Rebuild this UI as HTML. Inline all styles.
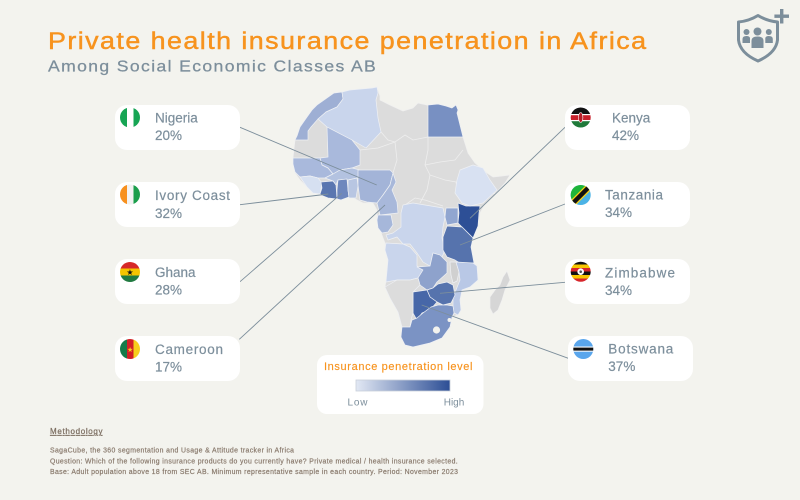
<!DOCTYPE html>
<html>
<head>
<meta charset="utf-8">
<style>
html,body{margin:0;padding:0;background:#f3f3ee;}
svg{display:block;}
text{font-family:"Liberation Sans",sans-serif;}
</style>
</head>
<body>
<svg width="800" height="500" viewBox="0 0 800 500" xmlns="http://www.w3.org/2000/svg">
<defs>
  <linearGradient id="lg" x1="0" x2="1" y1="0" y2="0">
    <stop offset="0" stop-color="#e2e8f4"/>
    <stop offset="1" stop-color="#2c4e95"/>
  </linearGradient>
  <clipPath id="c1"><circle cx="130" cy="117.5" r="10"/></clipPath>
  <clipPath id="c2"><circle cx="130" cy="194.5" r="10"/></clipPath>
  <clipPath id="c3"><circle cx="130" cy="272" r="10"/></clipPath>
  <clipPath id="c4"><circle cx="130" cy="349" r="10"/></clipPath>
  <clipPath id="c5"><circle cx="580.7" cy="117.5" r="10"/></clipPath>
  <clipPath id="c6"><circle cx="580.7" cy="195" r="10"/></clipPath>
  <clipPath id="c7"><circle cx="580.7" cy="271.7" r="10"/></clipPath>
  <clipPath id="c8"><circle cx="583.3" cy="349" r="10"/></clipPath>
</defs>

<rect width="800" height="500" fill="#f3f3ee"/>

<!-- Title -->
<g transform="scale(1.12,1)">
<text x="42.86" y="49" font-size="24" fill="#f7931e" stroke="#f7931e" stroke-width="0.45" textLength="534" lengthAdjust="spacing">Private health insurance penetration in Africa</text>
</g>
<g transform="scale(1.1,1)">
<text x="43.64" y="71.5" font-size="16" fill="#7c8e9b" stroke="#7c8e9b" stroke-width="0.25" textLength="298" lengthAdjust="spacing">Among Social Economic Classes AB</text>
</g>

<!-- Shield icon -->
<g fill="none" stroke="#7c8e9b" stroke-width="3" stroke-linejoin="round">
  <path d="M738.5 22 Q749 21 758 15.5 Q767 21 777.5 22 L777.5 40 Q776 53 758 61 Q740 53 738.5 40 Z"/>
</g>
<g fill="#7c8e9b">
  <circle cx="757.5" cy="31.5" r="4"/>
  <path d="M751.5 48 L751.5 41 Q751.5 36.5 757.5 36.5 Q763.5 36.5 763.5 41 L763.5 48 Z"/>
  <circle cx="746.5" cy="32" r="3"/>
  <path d="M742.5 43 L742.5 39 Q742.5 36 746.5 36 Q749.5 36 750 38 L750 43 Z"/>
  <circle cx="768.8" cy="32" r="3"/>
  <path d="M765.3 43 L765.3 38 Q765.8 36 768.8 36 Q772.8 36 772.8 39 L772.8 43 Z"/>
  <rect x="780" y="9" width="3.4" height="14.5"/>
  <rect x="774.4" y="14.5" width="14.6" height="3.4"/>
</g>

<!-- Map base -->
<g stroke="#f0f0f0" stroke-width="0.7" stroke-linejoin="round">
<polygon fill="#dcdcdc" points="317,105 334,93 342,92 350,90 372,88 377,87 380,96 380,100 390,105 403,111 413,108 418,103 427,105 438,104 446,106 452,108 456,105 458,110 457,113 463,137 468,153 475,163 487,173 493,177 502,176 510,175 505,183 496,193 485,204 480,213 478,226 473,238 470,247 473,262 477,266 478,280 470,287 462,290 460,300 461,310 458,315 452,317 450,327 442,338 430,343 413,347 405,345 401,337 402,327 398,312 390,298 385,287 386,281 388,260 385,250 385,243 380,230 377,220 377,210 373,203 363,203 353,198 347,197 337,199 323,195 313,193 307,187 300,180 295,173 293,164 293,158 295,140 297,136 300,127 307,117 312,110"/>
<!-- Madagascar -->
<polygon fill="#d6d6d6" points="507,271 510,280 505,290 502,300 498,310 493,314 490,308 490,297 495,290 500,285 503,277"/>
</g>
<!-- internal gray borders -->
<g fill="none" stroke="#eeeeee" stroke-width="0.8">
  <polyline points="381,132 388,140 395,142 405,135 413,140 428,137"/>
  <polyline points="395,142 397,160 393,173"/>
  <polyline points="428,137 428,150 425,165 430,175 427,190 420,203"/>
  <polyline points="425,165 440,162 455,160 463,150"/>
  <polyline points="430,175 445,180 456,182 458,195"/>
  <polyline points="405,205 415,198 425,200 443,206"/>
  <polyline points="360,150 378,148 395,142"/>
  <polyline points="496,193 488,195 483,203"/>
</g>

<!-- Colored countries -->
<g stroke="#eef0f4" stroke-width="0.7" stroke-linejoin="round">
  <polygon fill="#9eafd4" points="317,105 334,93 342,92 343,99 337,107 326,112 318,119 311,127 308,131 308,140 295,140 297,136 300,127 307,117 312,110"/>
  <polygon fill="#c9d5ec" points="342,92 350,90 372,88 377,87 378,93 376,100 378,118 381,132 366,148 352,140 327,127 318,119 326,112 337,107 343,99"/>
  <polygon fill="#7890c2" points="428,105 438,104 446,106 452,108 456,105 458,110 457,113 463,137 428,137"/>
  <polygon fill="#a9b9dc" points="327,127 352,140 360,150 360,165 352,168 340,170 333,174 328,168 322,165 320,158 328,157"/>
  <polygon fill="#a9b9dc" points="293,158 320,158 322,165 328,168 333,174 325,178 318,178 310,176 300,177 295,172 293,164"/>
  <polygon fill="#d6e0f1" points="300,177 310,176 318,178 322,183 320,194 313,193 307,187"/>
  <polygon fill="#b3c2e0" points="333,174 340,170 352,168 360,170 358,178 348,180 338,180 336,185 333,181 325,178"/>
  <polygon fill="#5a76b0" points="321,182 333,181 336,185 337,199 328,198 323,196 320,194 322,188"/>
  <polygon fill="#6e87bd" points="338,180 347,179 348,190 349,197 341,200 337,199 337,190"/>
  <polygon fill="#b8c6e2" points="348,180 357,178 358,186 356,198 349,198 348,190"/>
  <polygon fill="#a3b4d8" points="358,170 390,170 393,173 390,185 383,195 377,203 367,202 360,200 358,185"/>
  <polygon fill="#a8b8da" points="393,173 396,182 392,190 397,202 398,213 380,215 378,207 377,203 383,195 390,185"/>
  <polygon fill="#a6b7da" points="378,215 391,215 393,225 388,232 382,233 378,228 377,220"/>
  <polygon fill="#c9d5ec" points="403,205 413,203 443,208 445,217 443,227 442,238 445,250 442,257 433,253 430,266 423,262 417,253 410,244 403,244 397,237 388,240 386,235 393,233 401,227 401,213"/>
  <polygon fill="#c9d5ec" points="386,243 403,244 410,247 417,255 417,266 423,270 418,278 410,280 397,280 386,282 388,260 385,250"/>
  <polygon fill="#91a6d0" points="446,208 458,208 458,223 447,225 445,217"/>
  <polygon fill="#2d4f96" points="458,203 466,206 480,206 479,213 478,226 473,238 462,227 458,223 459,213"/>
  <polygon fill="#d8e1f2" points="460,170 473,165 483,168 490,180 497,190 483,203 470,206 462,203 455,193 457,180"/>
  <polygon fill="#5673ad" points="447,226 462,227 473,238 471,247 474,263 463,265 455,260 447,257 443,250 443,237"/>
  <polygon fill="#8ea2cc" points="417,267 430,266 433,253 440,255 447,262 447,273 437,282 433,288 427,290 420,285 418,278 423,270"/>
  <polygon fill="#d0d0d0" points="450,262 456,262 459,272 457,281 453,283 451,275"/>
  <polygon fill="#b9c8e6" points="456,262 473,263 477,266 478,280 470,287 462,290 460,300 461,310 458,315 454,313 453,306 453,297 456,290 460,280 459,272"/>
  <polygon fill="#5673ad" points="427,290 433,288 438,284 447,282 453,285 455,295 451,303 443,305 437,302 430,297"/>
  <polygon fill="#4767a8" points="413,292 427,290 430,297 437,302 430,310 422,313 417,320 413,313 413,305"/>
  <polygon fill="#dcdcdc" points="385,287 397,280 410,280 418,278 420,285 413,292 413,305 413,313 411,320 410,327 402,327 398,312 390,298"/>
  <polygon fill="#7b93c4" points="402,327 410,327 412,320 417,318 423,313 431,307 438,305 447,305 453,306 454,313 452,317 450,327 442,338 430,343 413,347 405,345 401,337"/>
</g>
<circle cx="436.5" cy="330" r="3.6" fill="#f3f3ee"/>
<circle cx="449.5" cy="320" r="2" fill="#f3f3ee"/>

<!-- Connector lines -->
<g stroke="#7c8e9b" stroke-width="0.9" fill="none">
  <line x1="240" y1="127.3" x2="376.7" y2="185"/>
  <line x1="240" y1="204.7" x2="328.3" y2="194"/>
  <line x1="240" y1="281.7" x2="341.7" y2="193.3"/>
  <line x1="239.3" y1="339.3" x2="385" y2="205"/>
  <line x1="565" y1="127.3" x2="470" y2="218.3"/>
  <line x1="565" y1="204" x2="460" y2="245"/>
  <line x1="565" y1="282.3" x2="440" y2="293.3"/>
  <line x1="568.3" y1="358.3" x2="421.7" y2="305"/>
</g>

<!-- Cards -->
<g fill="#ffffff">
  <rect x="115" y="105" width="125" height="45" rx="12"/>
  <rect x="115" y="182" width="125" height="45" rx="12"/>
  <rect x="115" y="259" width="125" height="45" rx="12"/>
  <rect x="115" y="336" width="125" height="45" rx="12"/>
  <rect x="565" y="105" width="125" height="45" rx="12"/>
  <rect x="565" y="182" width="125" height="45" rx="12"/>
  <rect x="565" y="259" width="125" height="45" rx="12"/>
  <rect x="568" y="336" width="125" height="45" rx="12"/>
</g>

<!-- Flags -->
<g clip-path="url(#c1)">
  <rect x="120" y="107" width="21" height="21" fill="#ffffff"/>
  <rect x="120" y="107" width="7" height="21" fill="#17a554"/>
  <rect x="133.5" y="107" width="7" height="21" fill="#17a554"/>
</g>
<g clip-path="url(#c2)">
  <rect x="120" y="184" width="7" height="21" fill="#f7901e"/>
  <rect x="127" y="184" width="6.5" height="21" fill="#f2f2f2"/>
  <rect x="133.5" y="184" width="7" height="21" fill="#1b9e4b"/>
</g>
<g clip-path="url(#c3)">
  <rect x="120" y="261.5" width="21" height="7" fill="#d62828"/>
  <rect x="120" y="268.5" width="21" height="7" fill="#f5c400"/>
  <rect x="120" y="275.5" width="21" height="7" fill="#217a41"/>
  <text x="130" y="275" font-size="8" text-anchor="middle" fill="#111">★</text>
</g>
<g clip-path="url(#c4)">
  <rect x="120" y="339" width="7" height="21" fill="#147a4a"/>
  <rect x="127" y="339" width="6.5" height="21" fill="#d21f26"/>
  <rect x="133.5" y="339" width="7" height="21" fill="#f7cf1d"/>
  <text x="130.2" y="352" font-size="7" text-anchor="middle" fill="#f7cf1d">★</text>
</g>
<g clip-path="url(#c5)">
  <rect x="570" y="107" width="21" height="7" fill="#111"/>
  <rect x="570" y="114" width="21" height="1.2" fill="#fff"/>
  <rect x="570" y="115.2" width="21" height="4.8" fill="#c8202b"/>
  <rect x="570" y="120" width="21" height="1.2" fill="#fff"/>
  <rect x="570" y="121.2" width="21" height="7" fill="#1f7a3a"/>
  <ellipse cx="580.7" cy="117.5" rx="2.2" ry="5" fill="#b51e28" stroke="#fff" stroke-width="0.6"/>
</g>
<g clip-path="url(#c6)">
  <rect x="570" y="184" width="22" height="22" fill="#4bb3e6"/>
  <polygon points="570,184 592,184 570,206" fill="#1eb53a"/>
  <line x1="570" y1="206" x2="592" y2="184" stroke="#f7d117" stroke-width="7"/>
  <line x1="570" y1="206" x2="592" y2="184" stroke="#111" stroke-width="4.5"/>
</g>
<g clip-path="url(#c7)">
  <rect x="570" y="261" width="22" height="3.5" fill="#111"/>
  <rect x="570" y="264.5" width="22" height="3.5" fill="#f7c600"/>
  <rect x="570" y="268" width="22" height="3.5" fill="#d7262b"/>
  <rect x="570" y="271.5" width="22" height="3.5" fill="#111"/>
  <rect x="570" y="275" width="22" height="3.5" fill="#f7c600"/>
  <rect x="570" y="278.5" width="22" height="4" fill="#d7262b"/>
  <circle cx="580.7" cy="271.7" r="3.3" fill="#fff"/>
  <circle cx="580.7" cy="271.7" r="1.3" fill="#555"/>
</g>
<g clip-path="url(#c8)">
  <rect x="573" y="339" width="21" height="21" fill="#5aa6ec"/>
  <rect x="573" y="346.5" width="21" height="5.2" fill="#ffffff"/>
  <rect x="573" y="347.6" width="21" height="3" fill="#111"/>
</g>

<!-- Card texts -->
<g fill="#7d8f9c" font-size="13.5" stroke="#7d8f9c" stroke-width="0.2">
  <text x="155" y="122.5">Nigeria</text>
  <text x="155" y="140">20%</text>
  <text x="155" y="200" textLength="75" lengthAdjust="spacing">Ivory Coast</text>
  <text x="155" y="218">32%</text>
  <text x="155" y="277">Ghana</text>
  <text x="155" y="294.5">28%</text>
  <text x="155" y="354" textLength="68" lengthAdjust="spacing">Cameroon</text>
  <text x="155" y="371.5">17%</text>

  <text x="612" y="122.5">Kenya</text>
  <text x="612" y="140">42%</text>
  <text x="605" y="199.5" textLength="58" lengthAdjust="spacing">Tanzania</text>
  <text x="605" y="217">34%</text>
  <text x="605" y="277.3" textLength="70" lengthAdjust="spacing">Zimbabwe</text>
  <text x="605" y="295">34%</text>
  <text x="608.3" y="353.5" textLength="65" lengthAdjust="spacing">Botswana</text>
  <text x="608.3" y="371">37%</text>
</g>

<!-- Legend -->
<rect x="317" y="355" width="166.5" height="59" rx="10" fill="#ffffff"/>
<text x="324" y="370" font-size="11" fill="#f7931e" stroke="#f7931e" stroke-width="0.15" textLength="148.5" lengthAdjust="spacing">Insurance penetration level</text>
<rect x="356" y="380" width="94" height="11" fill="url(#lg)" stroke="#c9cfd9" stroke-width="0.8"/>
<text x="347.5" y="405.5" font-size="10" fill="#7d8f9c" textLength="20" lengthAdjust="spacing">Low</text>
<text x="464.3" y="405.5" font-size="10" fill="#7d8f9c" text-anchor="end">High</text>

<!-- Methodology -->
<text x="50" y="434" font-size="8" fill="#7d6f62" text-decoration="underline" textLength="52.5" lengthAdjust="spacing" stroke="#7d6f62" stroke-width="0.25">Methodology</text>
<g font-size="6.9" fill="#8a7b6e" stroke="#8a7b6e" stroke-width="0.2">
  <text x="50" y="452.5" textLength="244" lengthAdjust="spacing">SagaCube, the 360 segmentation and Usage &amp; Attitude tracker in Africa</text>
  <text x="50" y="463.3" textLength="407.7" lengthAdjust="spacing">Question: Which of the following insurance products do you currently have? Private medical / health insurance selected.</text>
  <text x="50" y="474" textLength="408" lengthAdjust="spacing">Base: Adult population above 18 from SEC AB. Minimum representative sample in each country. Period:  November 2023</text>
</g>
</svg>
</body>
</html>
